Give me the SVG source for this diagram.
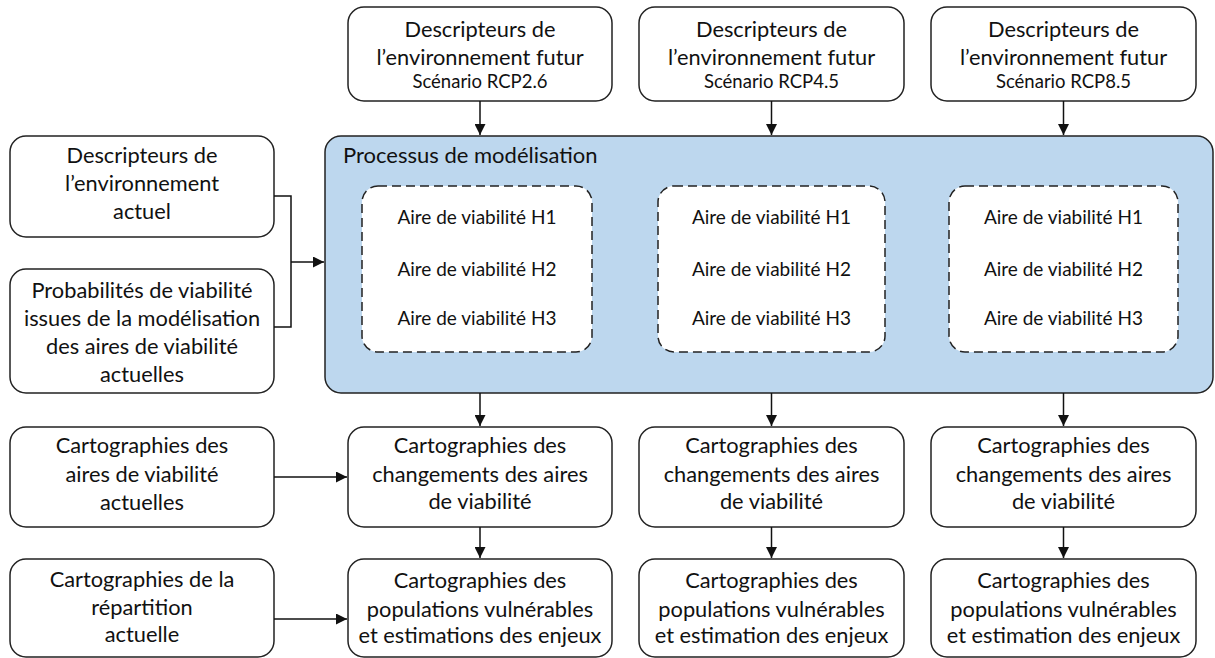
<svg xmlns="http://www.w3.org/2000/svg" width="1215" height="658" viewBox="0 0 1215 658">
<defs>
<marker id="arr" viewBox="0 0 10 10" refX="10" refY="5" markerWidth="11" markerHeight="11" markerUnits="userSpaceOnUse" orient="auto">
<path d="M0,0 L10,5 L0,10 Z" fill="#111"/>
</marker>
<style>
.box{fill:#fff;stroke:#222;stroke-width:1.5}
.proc{fill:#BDD7EE;stroke:#222;stroke-width:1.5}
.dash{fill:#fff;stroke:#222;stroke-width:1.5;stroke-dasharray:9 5}
.t{font-family:Lato,"Liberation Sans",sans-serif;font-size:21.8px;fill:#111;text-anchor:middle}
.s{font-family:Lato,"Liberation Sans",sans-serif;font-size:18.5px;fill:#111;text-anchor:middle}
.a{font-family:Lato,"Liberation Sans",sans-serif;font-size:19px;fill:#111;text-anchor:middle}
.ttl{font-family:Lato,"Liberation Sans",sans-serif;font-size:22px;fill:#111}
.c{fill:none;stroke:#111;stroke-width:1.5}
</style>
</defs>

<g id="top1"><rect class="box" x="348" y="7" width="264" height="94" rx="16"/>
<text class="t" x="480" y="37">Descripteurs de</text><text class="t" x="480" y="65">l’environnement futur</text><text class="s" x="480" y="88">Scénario RCP2.6</text></g>
<g id="top2"><rect class="box" x="639" y="7" width="265" height="94" rx="16"/>
<text class="t" x="771.5" y="37">Descripteurs de</text><text class="t" x="771.5" y="65">l’environnement futur</text><text class="s" x="771.5" y="88">Scénario RCP4.5</text></g>
<g id="top3"><rect class="box" x="931" y="7" width="265" height="94" rx="16"/>
<text class="t" x="1063.5" y="37">Descripteurs de</text><text class="t" x="1063.5" y="65">l’environnement futur</text><text class="s" x="1063.5" y="88">Scénario RCP8.5</text></g>

<g id="env-actuel"><rect class="box" x="10" y="136" width="264" height="101" rx="16"/>
<text class="t" x="142" y="163">Descripteurs de</text><text class="t" x="142" y="191">l’environnement</text><text class="t" x="142" y="219">actuel</text></g>
<g id="probabilites"><rect class="box" x="10" y="269" width="264" height="124" rx="16"/>
<text class="t" x="142" y="298">Probabilités de viabilité</text><text class="t" x="142" y="326">issues de la modélisation</text><text class="t" x="142" y="354">des aires de viabilité</text><text class="t" x="142" y="382">actuelles</text></g>

<g id="processus"><rect class="proc" x="325" y="136" width="888" height="257" rx="16"/>
<text class="ttl" x="343" y="163">Processus de modélisation</text></g>
<g id="aires1"><rect class="dash" x="362" y="186" width="230" height="166" rx="16"/>
<text class="a" x="477" y="224">Aire de viabilité H1</text><text class="a" x="477" y="276">Aire de viabilité H2</text><text class="a" x="477" y="325">Aire de viabilité H3</text></g>
<g id="aires2"><rect class="dash" x="658" y="186" width="227" height="166" rx="16"/>
<text class="a" x="771.5" y="224">Aire de viabilité H1</text><text class="a" x="771.5" y="276">Aire de viabilité H2</text><text class="a" x="771.5" y="325">Aire de viabilité H3</text></g>
<g id="aires3"><rect class="dash" x="949" y="186" width="229" height="166" rx="16"/>
<text class="a" x="1063.5" y="224">Aire de viabilité H1</text><text class="a" x="1063.5" y="276">Aire de viabilité H2</text><text class="a" x="1063.5" y="325">Aire de viabilité H3</text></g>

<g id="carto-aires"><rect class="box" x="10" y="427" width="264" height="100" rx="16"/>
<text class="t" x="142" y="453">Cartographies des</text><text class="t" x="142" y="482">aires de viabilité</text><text class="t" x="142" y="510">actuelles</text></g>
<g id="carto-rep"><rect class="box" x="10" y="559" width="264" height="98" rx="16"/>
<text class="t" x="142" y="587">Cartographies de la</text><text class="t" x="142" y="615">répartition</text><text class="t" x="142" y="642">actuelle</text></g>

<g id="chg1"><rect class="box" x="348" y="427" width="264" height="100" rx="16"/>
<text class="t" x="480" y="453">Cartographies des</text><text class="t" x="480" y="482">changements des aires</text><text class="t" x="480" y="509">de viabilité</text></g>
<g id="chg2"><rect class="box" x="639" y="427" width="265" height="100" rx="16"/>
<text class="t" x="771.5" y="453">Cartographies des</text><text class="t" x="771.5" y="482">changements des aires</text><text class="t" x="771.5" y="509">de viabilité</text></g>
<g id="chg3"><rect class="box" x="931" y="427" width="265" height="100" rx="16"/>
<text class="t" x="1063.5" y="453">Cartographies des</text><text class="t" x="1063.5" y="482">changements des aires</text><text class="t" x="1063.5" y="509">de viabilité</text></g>

<g id="pop1"><rect class="box" x="348" y="559" width="264" height="98" rx="16"/>
<text class="t" x="480" y="588">Cartographies des</text><text class="t" x="480" y="617">populations vulnérables</text><text class="t" x="480" y="643">et estimations des enjeux</text></g>
<g id="pop2"><rect class="box" x="639" y="559" width="265" height="98" rx="16"/>
<text class="t" x="771.5" y="588">Cartographies des</text><text class="t" x="771.5" y="617">populations vulnérables</text><text class="t" x="771.5" y="643">et estimation des enjeux</text></g>
<g id="pop3"><rect class="box" x="931" y="559" width="265" height="98" rx="16"/>
<text class="t" x="1063.5" y="588">Cartographies des</text><text class="t" x="1063.5" y="617">populations vulnérables</text><text class="t" x="1063.5" y="643">et estimation des enjeux</text></g>

<g id="connectors">
<path class="c" d="M480,101 V135" marker-end="url(#arr)"/>
<path class="c" d="M771.5,101 V135" marker-end="url(#arr)"/>
<path class="c" d="M1063.5,101 V135" marker-end="url(#arr)"/>
<path class="c" d="M274,196 H291 V327 H274"/>
<path class="c" d="M291,262 H324" marker-end="url(#arr)"/>
<path class="c" d="M480,393 V426" marker-end="url(#arr)"/>
<path class="c" d="M771.5,393 V426" marker-end="url(#arr)"/>
<path class="c" d="M1063.5,393 V426" marker-end="url(#arr)"/>
<path class="c" d="M480,527 V558" marker-end="url(#arr)"/>
<path class="c" d="M771.5,527 V558" marker-end="url(#arr)"/>
<path class="c" d="M1063.5,527 V558" marker-end="url(#arr)"/>
<path class="c" d="M274,477 H347" marker-end="url(#arr)"/>
<path class="c" d="M274,619 H347" marker-end="url(#arr)"/>
</g>
</svg>
